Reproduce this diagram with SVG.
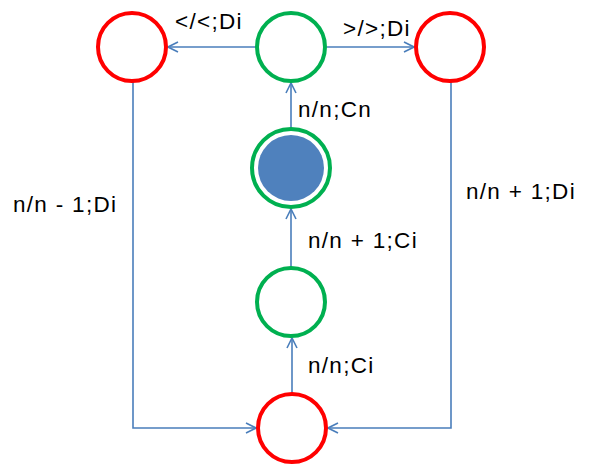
<svg xmlns="http://www.w3.org/2000/svg" width="591" height="472" viewBox="0 0 591 472">
<defs>
<marker id="arr" viewBox="0 0 12 12" refX="11" refY="6" markerWidth="12" markerHeight="12" markerUnits="userSpaceOnUse" orient="auto">
<path d="M1,1 L11,6 L1,11" fill="none" stroke="#4a7ebb" stroke-width="1.6"/>
</marker>
<style>
.red{fill:#fff;stroke:#ff0000;stroke-width:4}
.green{fill:#fff;stroke:#00b050;stroke-width:4}
.edge{fill:none;stroke:#4a7ebb;stroke-width:1.6;marker-end:url(#arr)}
text{font-family:"Liberation Sans",Arial,sans-serif;font-size:22.5px;letter-spacing:1.3px;fill:#000}
</style>
</defs>
<rect width="591" height="472" fill="#fff"/>
<g id="connectors">
<path class="edge" d="M256,47 L168,47"/>
<path class="edge" d="M327,47 L414,47"/>
<path class="edge" d="M291,128 L291,83"/>
<path class="edge" d="M291,267 L291,209"/>
<path class="edge" d="M292,393 L292,338"/>
<path class="edge" d="M133,82 L133,428 L256,428"/>
<path class="edge" d="M451,82 L451,428 L328,428"/>
</g>
<g id="n_left"><circle class="red" cx="132" cy="47" r="34"/></g>
<g id="n_top"><circle class="green" cx="291" cy="47" r="34"/></g>
<g id="n_right"><circle class="red" cx="450" cy="47" r="34"/></g>
<g id="n_final"><circle class="green" cx="291" cy="168" r="39"/><circle cx="291" cy="168" r="33" fill="#4f81bd"/></g>
<g id="n_mid"><circle class="green" cx="291" cy="302" r="34"/></g>
<g id="n_bottom"><circle class="red" cx="292" cy="428" r="34"/></g>
<g id="labels">
<text x="175" y="29">&lt;/&lt;;Di</text>
<text x="343" y="36">&gt;/&gt;;Di</text>
<text x="298" y="117">n/n;Cn</text>
<text x="308" y="248">n/n + 1;Ci</text>
<text x="308" y="373">n/n;Ci</text>
<text x="13" y="212">n/n - 1;Di</text>
<text x="466" y="199">n/n + 1;Di</text>
</g>
</svg>
